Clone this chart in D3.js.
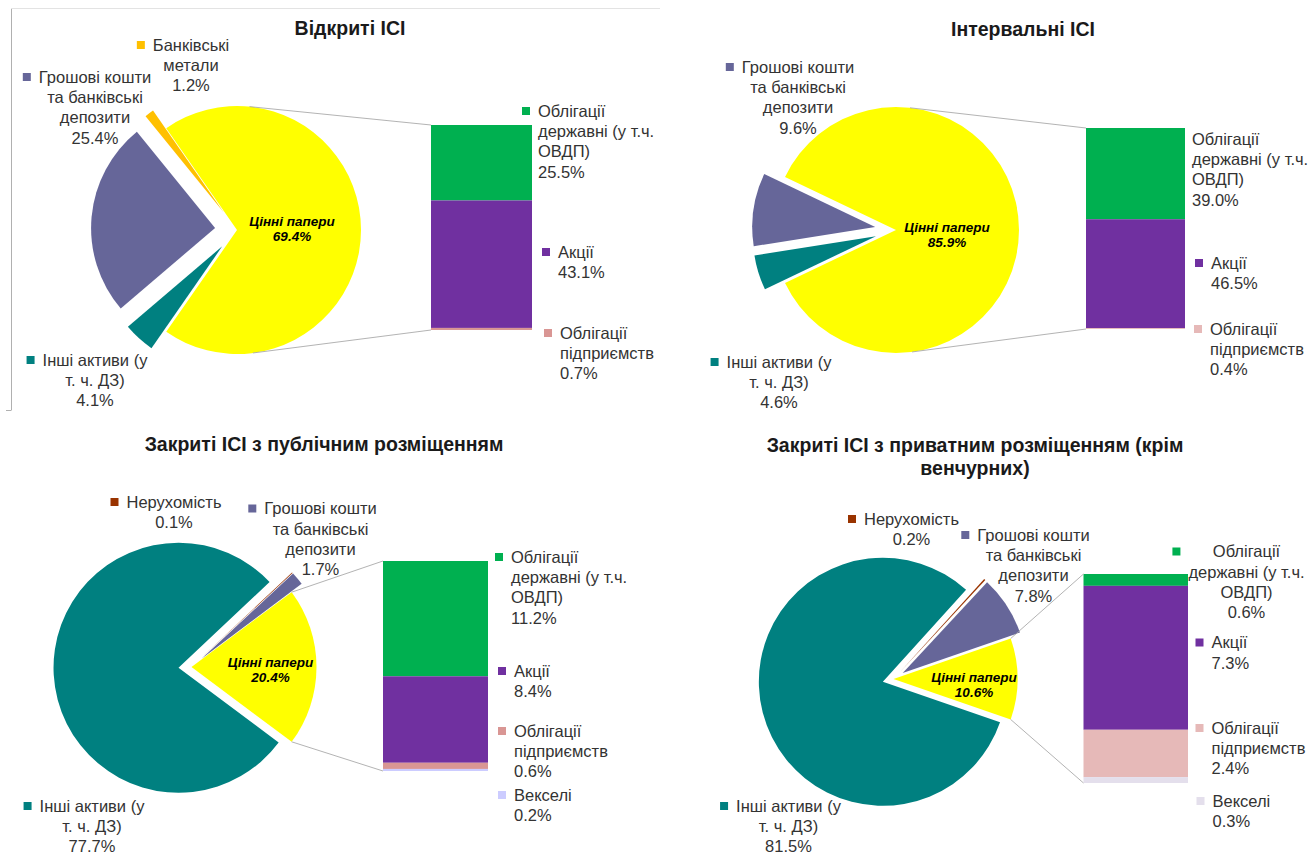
<!DOCTYPE html>
<html>
<head>
<meta charset="utf-8">
<script src="https://cdn.jsdelivr.net/npm/d3@7"></script>
<style>
  body { margin: 0; background: #fff; }
  text { font-family: "Liberation Sans", Arial, sans-serif; }
</style>
</head>
<body>
<script>
// pie-of-bar charts: structure of ICI assets, %

// panel 1 - Відкриті ІСІ
const pieCats1 = ["Цінні папери", "Інші активи (у т. ч. ДЗ)", "Грошові кошти та банківські депозити", "Банківські метали"];
const pieVals1 = [69.4, 4.1, 25.4, 1.2];
const barCats1 = ["Облігації державні (у т.ч. ОВДП)", "Акції", "Облігації підприємств"];
const barVals1 = [25.5, 43.1, 0.7];

// panel 2 - Інтервальні ІСІ
const pieCats2 = ["Цінні папери", "Інші активи (у т. ч. ДЗ)", "Грошові кошти та банківські депозити"];
const pieVals2 = [85.9, 4.6, 9.6];
const barCats2 = ["Облігації державні (у т.ч. ОВДП)", "Акції", "Облігації підприємств"];
const barVals2 = [39.0, 46.5, 0.4];

// panel 3 - Закриті ІСІ з публічним розміщенням
const pieCats3 = ["Цінні папери", "Інші активи (у т. ч. ДЗ)", "Нерухомість", "Грошові кошти та банківські депозити"];
const pieVals3 = [20.4, 77.7, 0.1, 1.7];
const barCats3 = ["Облігації державні (у т.ч. ОВДП)", "Акції", "Облігації підприємств", "Векселі"];
const barVals3 = [11.2, 8.4, 0.6, 0.2];

// panel 4 - Закриті ІСІ з приватним розміщенням
const pieCats4 = ["Цінні папери", "Інші активи (у т. ч. ДЗ)", "Нерухомість", "Грошові кошти та банківські депозити"];
const pieVals4 = [10.6, 81.5, 0.2, 7.8];
const barCats4 = ["Облігації державні (у т.ч. ОВДП)", "Акції", "Облігації підприємств", "Векселі"];
const barVals4 = [0.6, 7.3, 2.4, 0.3];

// how Excel wrapped the category names
const wrapped = {
  "Цінні папери": ["Цінні папери"],
  "Інші активи (у т. ч. ДЗ)": ["Інші активи (у", "т. ч. ДЗ)"],
  "Грошові кошти та банківські депозити": ["Грошові кошти", "та банківські", "депозити"],
  "Банківські метали": ["Банківські", "метали"],
  "Нерухомість": ["Нерухомість"],
  "Облігації державні (у т.ч. ОВДП)": ["Облігації", "державні (у т.ч.", "ОВДП)"],
  "Акції": ["Акції"],
  "Облігації підприємств": ["Облігації", "підприємств"],
  "Векселі": ["Векселі"]
};

const baseColors = {
  "Цінні папери": "#FFFF00",
  "Інші активи (у т. ч. ДЗ)": "#008080",
  "Грошові кошти та банківські депозити": "#666699",
  "Банківські метали": "#FFC000",
  "Нерухомість": "#993300",
  "Облігації державні (у т.ч. ОВДП)": "#00B050",
  "Акції": "#7030A0",
  "Облігації підприємств": "#D99694",
  "Векселі": "#CCCCFF"
};

const panels = [
  {
    title: ["Відкриті ІСІ"], titleX: 350, titleY: 28,
    pie: {cx: 237, cy: 230, r: 124, explode: 22},
    bar: {x: 431, w: 101, top: 125, bottom: 330},
    inner: {x: 292, y: 221},
    colors: {},
    labels: {
      "Банківські метали": {x: 191, y: 45, anchor: "middle"},
      "Грошові кошти та банківські депозити": {x: 95, y: 77, anchor: "middle"},
      "Інші активи (у т. ч. ДЗ)": {x: 95, y: 360, anchor: "middle"},
      "Облігації державні (у т.ч. ОВДП)": {x: 538, y: 111, anchor: "start"},
      "Акції": {x: 558, y: 252, anchor: "start"},
      "Облігації підприємств": {x: 560, y: 333, anchor: "start"}
    },
    cats: [pieCats1, pieVals1, barCats1, barVals1]
  },
  {
    title: ["Інтервальні ІСІ"], titleX: 1023, titleY: 29,
    pie: {cx: 896, cy: 230, r: 123, explode: 21},
    bar: {x: 1086, w: 99, top: 128, bottom: 329},
    inner: {x: 947, y: 227},
    colors: {"Облігації підприємств": "#E6B9B8"},
    labels: {
      "Грошові кошти та банківські депозити": {x: 798, y: 67, anchor: "middle"},
      "Інші активи (у т. ч. ДЗ)": {x: 779, y: 362, anchor: "middle"},
      "Облігації державні (у т.ч. ОВДП)": {x: 1192, y: 139, anchor: "start", noKey: true},
      "Акції": {x: 1211, y: 263, anchor: "start"},
      "Облігації підприємств": {x: 1210, y: 329, anchor: "start"}
    },
    cats: [pieCats2, pieVals2, barCats2, barVals2]
  },
  {
    title: ["Закриті ІСІ з публічним розміщенням"], titleX: 324, titleY: 444,
    pie: {cx: 191.5, cy: 667, r: 125, explode: 13},
    bar: {x: 383, w: 105, top: 561, bottom: 771},
    inner: {x: 270.5, y: 662.5},
    colors: {},
    labels: {
      "Нерухомість": {x: 174, y: 502, anchor: "middle"},
      "Грошові кошти та банківські депозити": {x: 320.5, y: 508.5, anchor: "middle"},
      "Інші активи (у т. ч. ДЗ)": {x: 92, y: 806, anchor: "middle"},
      "Облігації державні (у т.ч. ОВДП)": {x: 511, y: 557, anchor: "start"},
      "Акції": {x: 514, y: 671, anchor: "start"},
      "Облігації підприємств": {x: 514, y: 731, anchor: "start"},
      "Векселі": {x: 514, y: 795, anchor: "start"}
    },
    cats: [pieCats3, pieVals3, barCats3, barVals3]
  },
  {
    title: ["Закриті ІСІ з приватним розміщенням (крім", "венчурних)"], titleX: 975, titleY: 445,
    pie: {cx: 893.5, cy: 679, r: 124, explode: 11},
    bar: {x: 1083.5, w: 104.5, top: 574, bottom: 783},
    inner: {x: 974, y: 677},
    colors: {"Облігації підприємств": "#E6B9B8", "Векселі": "#E4DFEC"},
    labels: {
      "Нерухомість": {x: 911.5, y: 519, anchor: "middle"},
      "Грошові кошти та банківські депозити": {x: 1033.5, y: 535, anchor: "middle"},
      "Інші активи (у т. ч. ДЗ)": {x: 788.5, y: 806, anchor: "middle"},
      "Облігації державні (у т.ч. ОВДП)": {x: 1246.5, y: 551.5, anchor: "middle"},
      "Акції": {x: 1211.5, y: 642.5, anchor: "start"},
      "Облігації підприємств": {x: 1211.5, y: 728, anchor: "start"},
      "Векселі": {x: 1212.5, y: 801, anchor: "start"}
    },
    cats: [pieCats4, pieVals4, barCats4, barVals4]
  }
];

const fmt = v => d3.format(".1f")(v) + "%";
const lineH = 20.3;

const svg = d3.select("body").append("svg")
  .attr("width", 1311)
  .attr("height", 858);

// remains of the first chart's frame
svg.append("line").attr("x1", 11).attr("x2", 660).attr("y1", 8.5).attr("y2", 8.5)
  .attr("stroke", "#e3e3e3").attr("stroke-width", 1);
svg.append("line").attr("x1", 11.5).attr("x2", 11.5).attr("y1", 9).attr("y2", 410)
  .attr("stroke", "#b0b0b0").attr("stroke-width", 1);
svg.append("line").attr("x1", 6).attr("x2", 11.5).attr("y1", 410.5).attr("y2", 410.5)
  .attr("stroke", "#b0b0b0").attr("stroke-width", 1);

panels.forEach(drawPanel);

function colorOf(p, cat) {
  return p.colors[cat] || baseColors[cat];
}

function drawPanel(p) {
  const [pieCats, pieVals, barCats, barVals] = p.cats;
  const g = svg.append("g");
  const {cx, cy, r, explode} = p.pie;

  // title
  p.title.forEach((t, i) => {
    g.append("text")
      .attr("x", p.titleX).attr("y", p.titleY + i * 23)
      .attr("dy", "0.35em")
      .attr("text-anchor", "middle")
      .attr("font-size", "19.5px").attr("font-weight", "bold")
      .attr("fill", "#1a1a1a")
      .text(t);
  });

  // pie, with the "other" slice centred at 3 o'clock
  const data = pieCats.map((c, i) => ({cat: c, v: pieVals[i]}));
  const frac = pieVals[0] / d3.sum(pieVals);
  const start = Math.PI / 2 - frac * Math.PI;
  const pie = d3.pie().sort(null).value(d => d.v)
    .startAngle(start).endAngle(start + 2 * Math.PI);
  const arcs = pie(data);
  const arc = d3.arc().innerRadius(0).outerRadius(r);

  g.selectAll("path.slice").data(arcs).enter().append("path")
    .attr("class", "slice")
    .attr("d", arc)
    .attr("fill", d => colorOf(p, d.data.cat))
    .attr("transform", (d, i) => {
      const mid = (d.startAngle + d.endAngle) / 2;
      const off = i === 0 ? 0 : explode;
      return `translate(${cx + off * Math.sin(mid)}, ${cy - off * Math.cos(mid)})`;
    });

  // bar of the split-off slice
  const b = p.bar;
  const y = d3.scaleLinear().domain([0, d3.sum(barVals)]).range([b.top, b.bottom]);
  const cum = d3.cumsum(barVals);
  const barData = barCats.map((c, i) => ({cat: c, v: barVals[i], y0: cum[i] - barVals[i], y1: cum[i]}));

  g.selectAll("rect.seg").data(barData).enter().append("rect")
    .attr("class", "seg")
    .attr("x", b.x).attr("width", b.w)
    .attr("y", d => y(d.y0))
    .attr("height", d => y(d.y1) - y(d.y0))
    .attr("fill", d => colorOf(p, d.cat));

  // series lines from the slice to the bar
  const a0 = arcs[0].startAngle, a1 = arcs[0].endAngle;
  function anchor(px, py, upper) {
    const dx = px - cx, dy = py - cy;
    const dist = Math.hypot(dx, dy);
    const phi = Math.atan2(dx, -dy);
    const t = Math.acos(r / dist);
    let th = upper ? phi - t : phi + t;
    if (th < a0 || th > a1) th = upper ? a0 : a1;
    return [cx + r * Math.sin(th), cy - r * Math.cos(th)];
  }
  [[y(0), true], [y(d3.sum(barVals)), false]].forEach(([py, upper]) => {
    const [sx, sy] = anchor(b.x, py, upper);
    g.append("line")
      .attr("x1", sx).attr("y1", sy).attr("x2", b.x).attr("y2", py)
      .attr("stroke", "#a0a0a0").attr("stroke-width", 0.8);
  });

  // label inside the big slice
  g.append("text")
    .attr("x", p.inner.x).attr("y", p.inner.y)
    .attr("text-anchor", "middle")
    .attr("font-size", "13.5px").attr("font-weight", "bold").attr("font-style", "italic")
    .attr("fill", "#000")
    .selectAll("tspan")
    .data([pieCats[0], fmt(pieVals[0])])
    .enter().append("tspan")
      .attr("x", p.inner.x)
      .attr("y", (d, i) => p.inner.y + i * 15)
      .attr("dy", "0.35em")
      .text(d => d);

  // outside labels with legend keys
  const labelItems = [];
  pieCats.forEach((c, i) => { if (i > 0) labelItems.push({cat: c, v: pieVals[i]}); });
  barCats.forEach((c, i) => labelItems.push({cat: c, v: barVals[i]}));

  labelItems.forEach(item => {
    const pos = p.labels[item.cat];
    if (!pos) return;
    const lines = wrapped[item.cat].concat([fmt(item.v)]);
    const lg = g.append("g");
    const txt = lg.append("text")
      .attr("text-anchor", pos.anchor)
      .attr("font-size", "16.5px")
      .attr("fill", "#333");
    txt.selectAll("tspan").data(lines).enter().append("tspan")
      .attr("x", pos.x)
      .attr("y", (d, i) => pos.y + i * lineH)
      .attr("dy", "0.35em")
      .text(d => d);

    if (!pos.noKey) {
      let maxW = 0;
      txt.selectAll("tspan").each(function() {
        maxW = Math.max(maxW, this.getComputedTextLength());
      });
      const left = pos.anchor === "middle" ? pos.x - maxW / 2 : pos.x;
      lg.append("rect")
        .attr("x", left - 16).attr("y", pos.y - 4)
        .attr("width", 8).attr("height", 8)
        .attr("fill", colorOf(p, item.cat));
    }
  });
}
</script>
</body>
</html>
